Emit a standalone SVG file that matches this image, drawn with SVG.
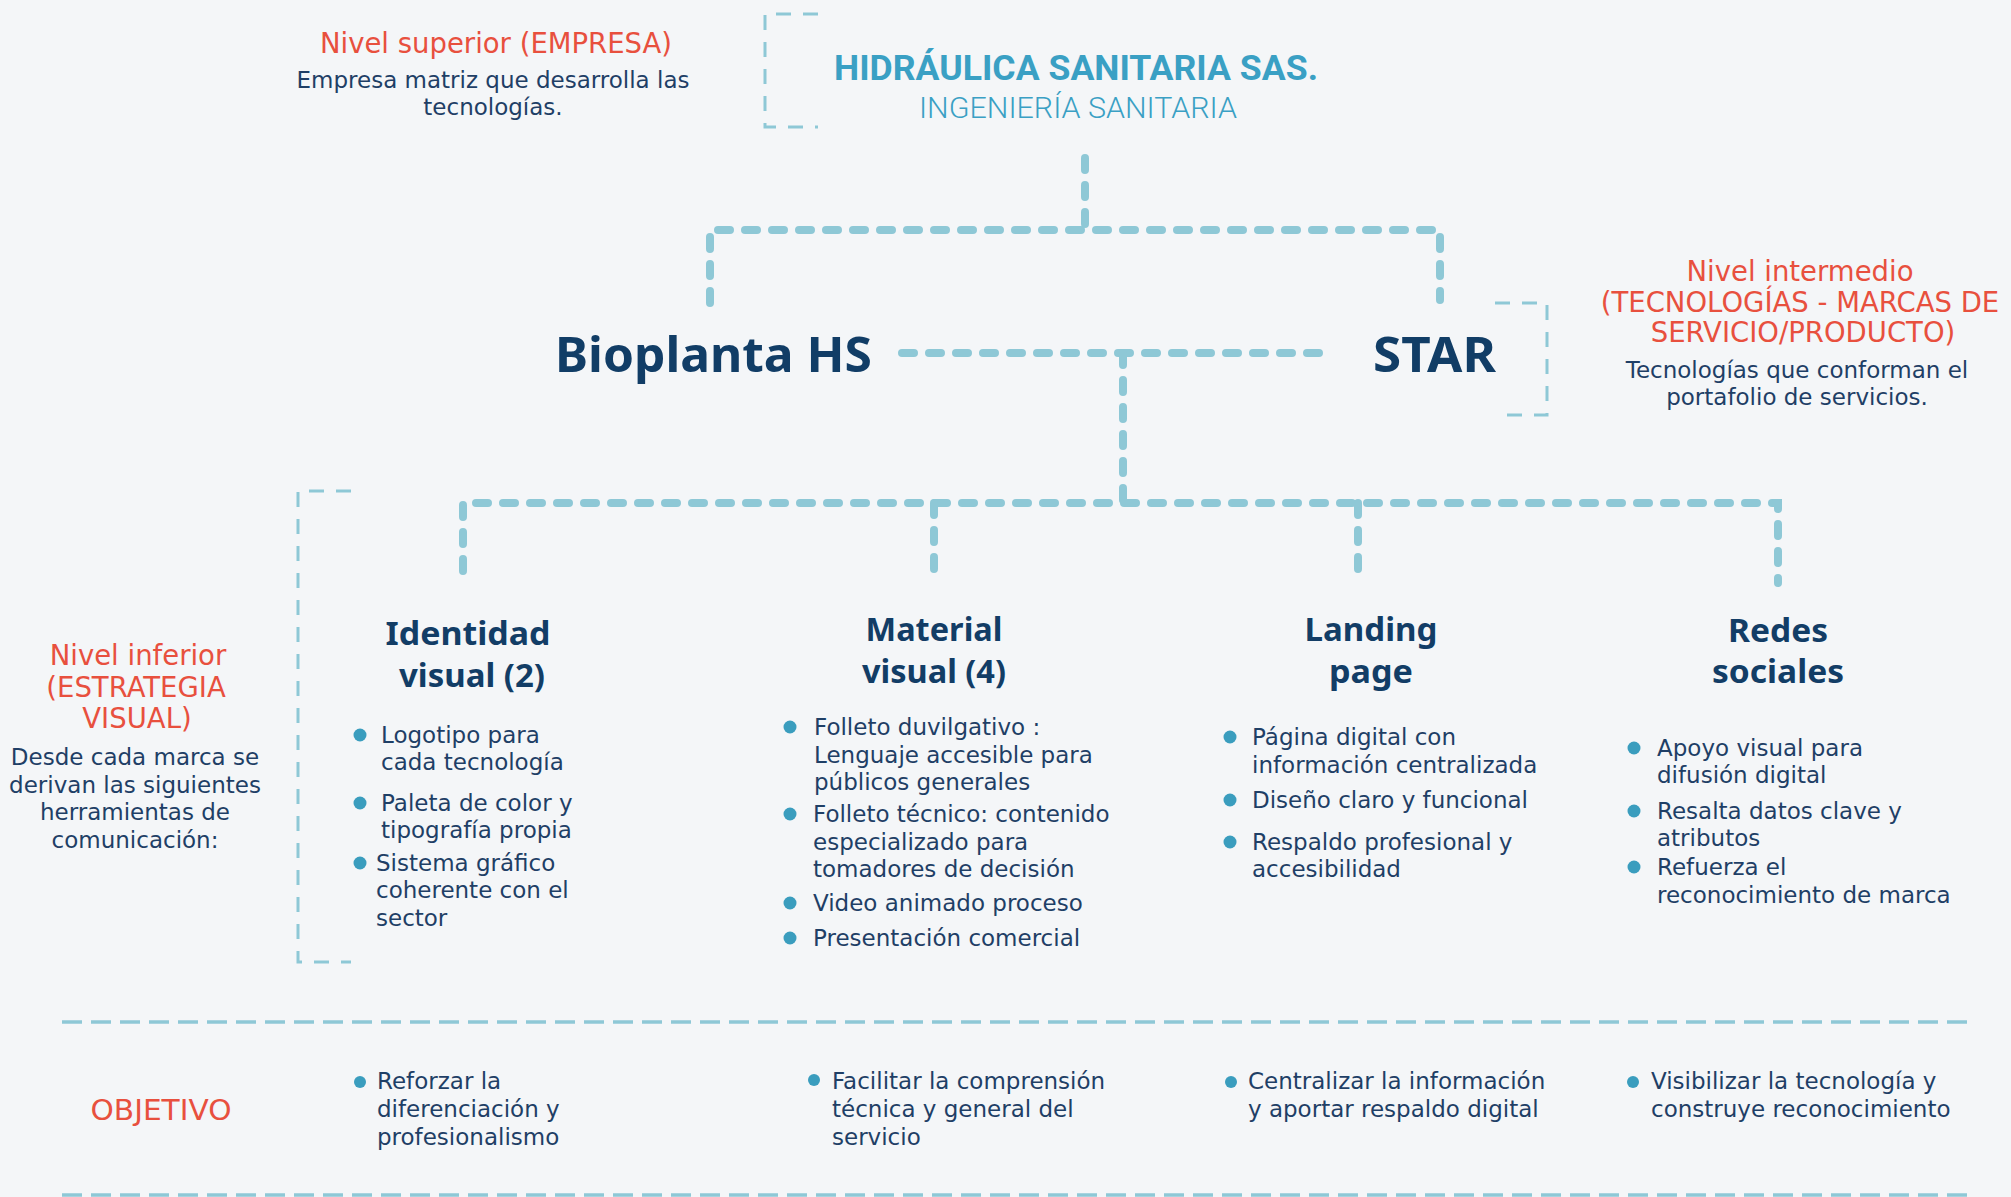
<svg xmlns="http://www.w3.org/2000/svg" width="2011" height="1197" viewBox="0 0 2011 1197">
<style>
.body{font-family:"DejaVu Sans","Liberation Sans",sans-serif;font-size:23px;fill:#1f3f66}
.red{font-family:"DejaVu Sans","Liberation Sans",sans-serif;font-size:27.5px;fill:#e8503e}
.title{font-family:"Noto Sans","Liberation Sans",sans-serif;font-weight:700;font-size:33px;fill:#123d66;text-anchor:middle}
.big{font-family:"Noto Sans","Liberation Sans",sans-serif;font-weight:700;font-size:48px;fill:#113d66}
.mid{text-anchor:middle}
.dot{fill:#3a9dbe}
.thick{fill:none;stroke:#8ec8d6;stroke-width:8;stroke-linecap:round;stroke-dasharray:12 15}
.thin{fill:none;stroke:#8ec8d6;stroke-width:3;stroke-dasharray:15 12}
.sep{fill:none;stroke:#8ec8d6;stroke-width:3.5;stroke-dasharray:20 9}
</style>
<rect width="2011" height="1197" fill="#f4f6f8"/>

<g id="connectors">
<path class="thick" d="M1085,158 V230"/>
<path class="thick" d="M710,303 V230 H1440 V300"/>
<path class="thick" d="M902,353 H1320"/>
<path class="thick" d="M1123,353 V503"/>
<path class="thick" d="M463,571 V503 H1778 V583"/>
<path class="thick" d="M934,503 V583"/>
<path class="thick" d="M1358,503 V583"/>
<path class="thin" d="M818,14 H765 V127 H818"/>
<path class="thin" d="M1495,303 H1547 V415 H1495"/>
<path class="thin" d="M351,491 H298 V962 H351"/>
<path class="sep" d="M62,1022 H1972"/>
<path class="sep" d="M62,1195 H1972"/>
</g>

<g id="label-superior">
<text class="red mid" x="496" y="53">Nivel superior (EMPRESA)</text>
<text class="body mid" x="493" y="88">Empresa matriz que desarrolla las</text>
<text class="body mid" x="493" y="115">tecnologías.</text>
</g>

<g id="node-hidraulica">
<text x="834" y="80" textLength="484" lengthAdjust="spacingAndGlyphs" style="font-family:Roboto,'Liberation Sans',sans-serif;font-weight:700;font-size:35px;fill:#3aa0c4">HIDRÁULICA SANITARIA SAS.</text>
<text x="919" y="118" textLength="318" lengthAdjust="spacingAndGlyphs" style="font-family:Roboto,'Liberation Sans',sans-serif;font-weight:300;font-size:29px;fill:#3aa0c4">INGENIERÍA SANITARIA</text>
</g>

<g id="node-bioplanta">
<text class="big" x="555" y="372" textLength="317" lengthAdjust="spacingAndGlyphs">Bioplanta HS</text>
</g>

<g id="node-star">
<text class="big" x="1373" y="372" textLength="123" lengthAdjust="spacingAndGlyphs">STAR</text>
</g>

<g id="label-intermedio">
<text class="red mid" x="1800" y="281">Nivel intermedio</text>
<text class="red mid" x="1800" y="312">(TECNOLOGÍAS - MARCAS DE</text>
<text class="red mid" x="1803" y="342">SERVICIO/PRODUCTO)</text>
<text class="body mid" x="1797" y="378">Tecnologías que conforman el</text>
<text class="body mid" x="1797" y="405">portafolio de servicios.</text>
</g>

<g id="label-inferior">
<text class="red mid" x="138" y="665">Nivel inferior</text>
<text class="red mid" x="136" y="697">(ESTRATEGIA</text>
<text class="red mid" x="137" y="728">VISUAL)</text>
<text class="body mid" x="135" y="765">Desde cada marca se</text>
<text class="body mid" x="135" y="793">derivan las siguientes</text>
<text class="body mid" x="135" y="820">herramientas de</text>
<text class="body mid" x="135" y="848">comunicación:</text>
</g>

<g id="node-identidad">
<text class="title" x="468" y="645" textLength="165" lengthAdjust="spacingAndGlyphs">Identidad</text>
<text class="title" x="472" y="687" textLength="146" lengthAdjust="spacingAndGlyphs">visual (2)</text>
<circle class="dot" cx="360" cy="735" r="6.5"/>
<text class="body" x="381" y="743">Logotipo para</text>
<text class="body" x="381" y="770">cada tecnología</text>
<circle class="dot" cx="360" cy="803" r="6.5"/>
<text class="body" x="381" y="811">Paleta de color y</text>
<text class="body" x="381" y="838">tipografía propia</text>
<circle class="dot" cx="360" cy="863" r="6.5"/>
<text class="body" x="376" y="871">Sistema gráfico</text>
<text class="body" x="376" y="898">coherente con el</text>
<text class="body" x="376" y="926">sector</text>
</g>

<g id="node-material">
<text class="title" x="934" y="641" textLength="137" lengthAdjust="spacingAndGlyphs">Material</text>
<text class="title" x="934" y="683" textLength="144" lengthAdjust="spacingAndGlyphs">visual (4)</text>
<circle class="dot" cx="790" cy="727" r="6.5"/>
<text class="body" x="814" y="735">Folleto duvilgativo :</text>
<text class="body" x="814" y="763">Lenguaje accesible para</text>
<text class="body" x="814" y="790">públicos generales</text>
<circle class="dot" cx="790" cy="814" r="6.5"/>
<text class="body" x="813" y="822">Folleto técnico: contenido</text>
<text class="body" x="813" y="850">especializado para</text>
<text class="body" x="813" y="877">tomadores de decisión</text>
<circle class="dot" cx="790" cy="903" r="6.5"/>
<text class="body" x="813" y="911">Video animado proceso</text>
<circle class="dot" cx="790" cy="938" r="6.5"/>
<text class="body" x="813" y="946">Presentación comercial</text>
</g>

<g id="node-landing">
<text class="title" x="1371" y="641" textLength="133" lengthAdjust="spacingAndGlyphs">Landing</text>
<text class="title" x="1371" y="683" textLength="84" lengthAdjust="spacingAndGlyphs">page</text>
<circle class="dot" cx="1230" cy="737" r="6.5"/>
<text class="body" x="1252" y="745">Página digital con</text>
<text class="body" x="1252" y="773">información centralizada</text>
<circle class="dot" cx="1230" cy="800" r="6.5"/>
<text class="body" x="1252" y="808">Diseño claro y funcional</text>
<circle class="dot" cx="1230" cy="842" r="6.5"/>
<text class="body" x="1252" y="850">Respaldo profesional y</text>
<text class="body" x="1252" y="877">accesibilidad</text>
</g>

<g id="node-redes">
<text class="title" x="1778" y="642" textLength="100" lengthAdjust="spacingAndGlyphs">Redes</text>
<text class="title" x="1778" y="683" textLength="132" lengthAdjust="spacingAndGlyphs">sociales</text>
<circle class="dot" cx="1634" cy="748" r="6.5"/>
<text class="body" x="1657" y="756">Apoyo visual para</text>
<text class="body" x="1657" y="783">difusión digital</text>
<circle class="dot" cx="1634" cy="811" r="6.5"/>
<text class="body" x="1657" y="819">Resalta datos clave y</text>
<text class="body" x="1657" y="846">atributos</text>
<circle class="dot" cx="1634" cy="867" r="6.5"/>
<text class="body" x="1657" y="875">Refuerza el</text>
<text class="body" x="1657" y="903">reconocimiento de marca</text>
</g>

<g id="objetivos">
<text class="red mid" x="161" y="1120" textLength="141" lengthAdjust="spacingAndGlyphs">OBJETIVO</text>
<circle class="dot" cx="360" cy="1082" r="6"/>
<text class="body" x="377" y="1089">Reforzar la</text>
<text class="body" x="377" y="1117">diferenciación y</text>
<text class="body" x="377" y="1145">profesionalismo</text>
<circle class="dot" cx="814" cy="1080" r="6"/>
<text class="body" x="832" y="1089">Facilitar la comprensión</text>
<text class="body" x="832" y="1117">técnica y general del</text>
<text class="body" x="832" y="1145">servicio</text>
<circle class="dot" cx="1231" cy="1082" r="6"/>
<text class="body" x="1248" y="1089">Centralizar la información</text>
<text class="body" x="1248" y="1117">y aportar respaldo digital</text>
<circle class="dot" cx="1633" cy="1082" r="6"/>
<text class="body" x="1651" y="1089">Visibilizar la tecnología y</text>
<text class="body" x="1651" y="1117">construye reconocimiento</text>
</g>
</svg>
